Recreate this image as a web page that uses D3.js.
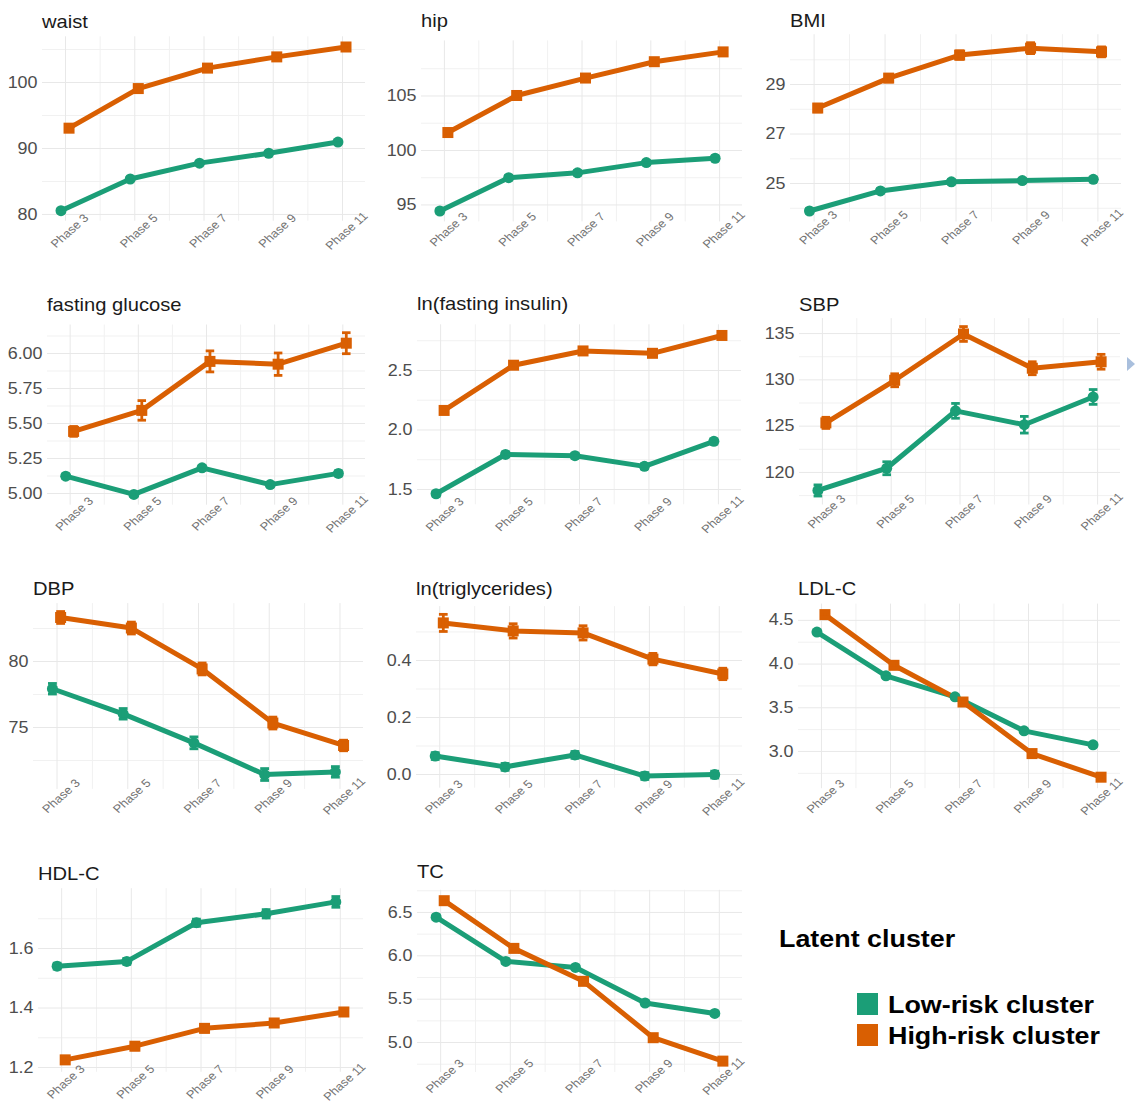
<!DOCTYPE html>
<html>
<head>
<meta charset="utf-8">
<script src="https://cdn.jsdelivr.net/npm/d3@7"></script>
<style>
  body { margin: 0; background: #fff; }
  svg { display: block; }
  text { font-family: "Liberation Sans", Arial, sans-serif; }
</style>
</head>
<body>
<svg id="chart" width="1137" height="1106"></svg>
<script>
// ---- data -------------------------------------------------------------
const phases = [3, 5, 7, 9, 11];
const phaseLabels = ["Phase 3", "Phase 5", "Phase 7", "Phase 9", "Phase 11"];
const phaseMinorBreaks = [4, 6, 8, 10];
const clusters = ["Low-risk cluster", "High-risk cluster"];
const measures = ["waist", "hip", "BMI", "fasting glucose", "ln(fasting insulin)", "SBP",
                  "DBP", "ln(triglycerides)", "LDL-C", "HDL-C", "TC"];

// cluster means by phase, one row per measure
const lowRiskMean = [
  [80.5, 85.3, 87.7, 89.2, 90.9],
  [94.4, 97.46, 97.9, 98.84, 99.24],
  [23.87, 24.68, 25.05, 25.10, 25.15],
  [5.12, 4.99, 5.18, 5.06, 5.14],
  [1.46, 1.79, 1.78, 1.69, 1.90],
  [118.0, 120.4, 126.6, 125.1, 128.1],
  [77.9, 76.0, 73.8, 71.4, 71.6],
  [0.063, 0.025, 0.067, -0.007, -0.002],
  [4.36, 3.86, 3.62, 3.23, 3.07],
  [1.539, 1.555, 1.685, 1.715, 1.755],
  [6.44, 5.93, 5.86, 5.45, 5.33]
];
const highRiskMean = [
  [93.0, 99.0, 102.1, 103.8, 105.3],
  [101.6, 105.0, 106.6, 108.1, 109.0],
  [28.03, 29.24, 30.17, 30.45, 30.30],
  [5.44, 5.59, 5.94, 5.92, 6.07],
  [2.16, 2.54, 2.66, 2.64, 2.79],
  [125.3, 129.9, 134.9, 131.2, 131.9],
  [83.3, 82.5, 79.4, 75.3, 73.6],
  [0.530, 0.502, 0.495, 0.403, 0.351],
  [4.56, 3.98, 3.56, 2.97, 2.70],
  [1.224, 1.270, 1.330, 1.348, 1.385],
  [6.63, 6.08, 5.70, 5.05, 4.78]
];
// standard errors (error bar half-lengths)
const lowRiskSE = [
  [0.25, 0.25, 0.25, 0.25, 0.25],
  [0.2, 0.2, 0.2, 0.2, 0.2],
  [0.08, 0.08, 0.08, 0.08, 0.08],
  [0.015, 0.015, 0.015, 0.015, 0.018],
  [0.02, 0.02, 0.02, 0.02, 0.02],
  [0.6, 0.7, 0.8, 0.9, 0.8],
  [0.4, 0.4, 0.45, 0.45, 0.4],
  [0.012, 0.012, 0.012, 0.012, 0.012],
  [0.02, 0.02, 0.02, 0.02, 0.02],
  [0.01, 0.01, 0.012, 0.014, 0.018],
  [0.025, 0.025, 0.025, 0.025, 0.025]
];
const highRiskSE = [
  [0.35, 0.35, 0.35, 0.35, 0.35],
  [0.3, 0.3, 0.3, 0.3, 0.3],
  [0.15, 0.15, 0.17, 0.22, 0.2],
  [0.035, 0.07, 0.075, 0.08, 0.075],
  [0.025, 0.025, 0.025, 0.025, 0.025],
  [0.6, 0.7, 0.8, 0.7, 0.8],
  [0.45, 0.45, 0.45, 0.45, 0.4],
  [0.03, 0.025, 0.025, 0.02, 0.02],
  [0.03, 0.03, 0.03, 0.03, 0.03],
  [0.012, 0.012, 0.012, 0.012, 0.012],
  [0.03, 0.03, 0.03, 0.03, 0.03]
];

// y axis breaks and their labels, one row per measure
const yBreaks = [
  [80, 90, 100], [95, 100, 105], [25, 27, 29],
  [5.00, 5.25, 5.50, 5.75, 6.00], [1.5, 2.0, 2.5], [120, 125, 130, 135],
  [75, 80], [0.0, 0.2, 0.4], [3.0, 3.5, 4.0, 4.5],
  [1.2, 1.4, 1.6], [5.0, 5.5, 6.0, 6.5]
];
const yBreakLabels = [
  ["80", "90", "100"], ["95", "100", "105"], ["25", "27", "29"],
  ["5.00", "5.25", "5.50", "5.75", "6.00"], ["1.5", "2.0", "2.5"], ["120", "125", "130", "135"],
  ["75", "80"], ["0.0", "0.2", "0.4"], ["3.0", "3.5", "4.0", "4.5"],
  ["1.2", "1.4", "1.6"], ["5.0", "5.5", "6.0", "6.5"]
];
const yMinorBreaks = [
  [85, 95, 105], [97.5, 102.5, 107.5], [24, 26, 28, 30],
  [4.875, 5.125, 5.375, 5.625, 5.875, 6.125], [1.75, 2.25, 2.75], [117.5, 122.5, 127.5, 132.5],
  [72.5, 77.5, 82.5], [0.1, 0.3, 0.5], [2.75, 3.25, 3.75, 4.25],
  [1.3, 1.5, 1.7], [4.75, 5.25, 5.75, 6.25, 6.75]
];

// ---- layout -----------------------------------------------------------
// panel plotting areas (px) and title / tick label placement
const panelBoxes = [
  { left: 42,  right: 365,  top: 36.3,  bottom: 220.7,  titleY: 28,  labelDy: 10 },
  { left: 421, right: 742,  top: 40.4,  bottom: 221.4,  titleY: 27,  labelDy: 8 },
  { left: 790, right: 1121, top: 34.2,  bottom: 221.5,  titleY: 27,  labelDy: 6 },
  { left: 47,  right: 365,  top: 324.5, bottom: 504.7,  titleY: 311, labelDy: 9 },
  { left: 417, right: 741,  top: 324.3, bottom: 504.3,  titleY: 310, labelDy: 10 },
  { left: 799, right: 1120, top: 318.1, bottom: 504.5,  titleY: 311, labelDy: 7 },
  { left: 33,  right: 363,  top: 603.1, bottom: 788.9,  titleY: 595, labelDy: 7 },
  { left: 416, right: 742,  top: 606.1, bottom: 787.7,  titleY: 595, labelDy: 9 },
  { left: 798, right: 1120, top: 603.6, bottom: 788.2,  titleY: 595, labelDy: 8 },
  { left: 38,  right: 363,  top: 888.2, bottom: 1071.8, titleY: 880, labelDy: 10 },
  { left: 417, right: 742,  top: 889.8, bottom: 1072.0, titleY: 878, labelDy: 4 }
];

const colors = ["#1B9E77", "#D95F02"];
const textStretch = 1.12;      // horizontal scale applied to all text
const dodge = 0.116;           // horizontal offset of each cluster (x units)
const capHalf = 0.125;         // half-width of error bar caps (x units)
const gridMajor = "#E8E8E8";
const gridMinor = "#F1F1F1";

const svg = d3.select("#chart");
svg.append("rect").attr("width", 1137).attr("height", 1106).attr("fill", "#fff");

measures.forEach((name, i) => {
  const box = panelBoxes[i];
  const series = [
    { key: clusters[0], color: colors[0], shape: "circle", side: -1, mean: lowRiskMean[i], se: lowRiskSE[i] },
    { key: clusters[1], color: colors[1], shape: "square", side: 1, mean: highRiskMean[i], se: highRiskSE[i] }
  ];
  series.forEach(s => {
    s.points = phases.map((p, j) => ({ phase: p, x: p + s.side * dodge, mean: s.mean[j], se: s.se[j] }));
  });

  // continuous scales with 5% expansion, as in ggplot
  const yLo = d3.min(series, s => d3.min(s.points, d => d.mean - d.se));
  const yHi = d3.max(series, s => d3.max(s.points, d => d.mean + d.se));
  const yPad = (yHi - yLo) * 0.05;
  const y = d3.scaleLinear().domain([yLo - yPad, yHi + yPad]).range([box.bottom, box.top]);

  const xLo = d3.min(phases) - dodge - capHalf;
  const xHi = d3.max(phases) + dodge + capHalf;
  const xPad = (xHi - xLo) * 0.05;
  const x = d3.scaleLinear().domain([xLo - xPad, xHi + xPad]).range([box.left, box.right]);

  const g = svg.append("g").attr("class", "panel");
  const w = box.right - box.left, h = box.bottom - box.top;
  const [d0, d1] = y.domain();
  const inY = v => v >= Math.min(d0, d1) && v <= Math.max(d0, d1);

  // grid lines
  const gridY = (vals, color, width) => {
    const ax = g.append("g").attr("transform", `translate(${box.left},0)`)
      .call(d3.axisLeft(y).tickValues(vals.filter(inY)).tickSize(-w).tickFormat(""));
    ax.select(".domain").remove();
    ax.selectAll("line").attr("stroke", color).attr("stroke-width", width);
  };
  const gridX = (vals, color, width) => {
    const ax = g.append("g").attr("transform", `translate(0,${box.bottom})`)
      .call(d3.axisBottom(x).tickValues(vals).tickSize(-h).tickFormat(""));
    ax.select(".domain").remove();
    ax.selectAll("line").attr("stroke", color).attr("stroke-width", width);
  };
  gridY(yMinorBreaks[i], gridMinor, 1);
  gridX(phaseMinorBreaks, gridMinor, 1);
  gridY(yBreaks[i], gridMajor, 1);
  gridX(phases, gridMajor, 1);

  // y tick labels
  const yAx = g.append("g").attr("transform", `translate(${box.left},0)`)
    .call(d3.axisLeft(y).tickValues(yBreaks[i]).tickSize(0).tickPadding(4)
      .tickFormat((d, j) => yBreakLabels[i][j]));
  yAx.select(".domain").remove();
  yAx.selectAll("text")
    .attr("fill", "#4D4D4D").attr("font-size", 16)
    .attr("transform", `scale(${textStretch},1)`);

  // x tick labels, rotated
  const xAx = g.append("g").attr("transform", `translate(0,${box.bottom})`)
    .call(d3.axisBottom(x).tickValues(phases).tickSize(0)
      .tickFormat((d, j) => phaseLabels[j]));
  xAx.select(".domain").remove();
  xAx.selectAll("text")
    .attr("y", 0).attr("dy", "0.35em")
    .attr("text-anchor", "middle")
    .attr("fill", "#737373").attr("font-size", 11.5)
    .attr("transform", `translate(4,${box.labelDy}) scale(${textStretch},1) rotate(-45)`);

  // panel title
  g.append("text")
    .attr("transform", `translate(${box.left},${box.titleY}) scale(${textStretch},1)`)
    .attr("font-size", 18).attr("fill", "#1A1A1A")
    .text(name);

  const line = d3.line().x(d => x(d.x)).y(d => y(d.mean));

  // lines
  g.selectAll(".trend").data(series).join("path")
    .attr("class", "trend")
    .attr("d", s => line(s.points))
    .attr("fill", "none")
    .attr("stroke", s => s.color)
    .attr("stroke-width", 5)
    .attr("stroke-linejoin", "round");

  // points and error bars
  series.forEach(s => {
    const sg = g.append("g").attr("fill", s.color).attr("stroke", s.color);
    if (s.shape === "circle") {
      sg.selectAll("circle").data(s.points).join("circle")
        .attr("cx", d => x(d.x)).attr("cy", d => y(d.mean)).attr("r", 5.5).attr("stroke", "none");
    } else {
      sg.selectAll("rect").data(s.points).join("rect")
        .attr("x", d => x(d.x) - 5.5).attr("y", d => y(d.mean) - 5.5)
        .attr("width", 11).attr("height", 11).attr("stroke", "none");
    }
    const eb = sg.selectAll(".err").data(s.points).join("g").attr("class", "err")
      .attr("stroke-width", 2.8).attr("fill", "none");
    eb.append("line")
      .attr("x1", d => x(d.x)).attr("x2", d => x(d.x))
      .attr("y1", d => y(d.mean - d.se)).attr("y2", d => y(d.mean + d.se));
    eb.append("line")
      .attr("x1", d => x(d.x - capHalf)).attr("x2", d => x(d.x + capHalf))
      .attr("y1", d => y(d.mean + d.se)).attr("y2", d => y(d.mean + d.se));
    eb.append("line")
      .attr("x1", d => x(d.x - capHalf)).attr("x2", d => x(d.x + capHalf))
      .attr("y1", d => y(d.mean - d.se)).attr("y2", d => y(d.mean - d.se));
  });
});

// small navigation marker at the right edge
svg.append("path")
  .attr("d", "M1127,357 L1135,364 L1127,371 Z")
  .attr("fill", "#A9BFDD");

// legend
const legend = svg.append("g").attr("class", "legend");
legend.append("text")
  .attr("transform", `translate(779,947) scale(${textStretch},1)`)
  .attr("font-size", 24).attr("font-weight", "bold").attr("fill", "#000")
  .text("Latent cluster");
const rowY = d3.scalePoint().domain(clusters).range([993, 1024]);
const item = legend.selectAll(".item").data(clusters).join("g").attr("class", "item")
  .attr("transform", d => `translate(857,${rowY(d)})`);
item.append("rect").attr("width", 21).attr("height", 22)
  .attr("fill", (d, i) => colors[i]);
item.append("text")
  .attr("transform", `translate(31,20) scale(${textStretch},1)`)
  .attr("font-size", 24).attr("font-weight", "bold").attr("fill", "#000")
  .text(d => d);
</script>
</body>
</html>
